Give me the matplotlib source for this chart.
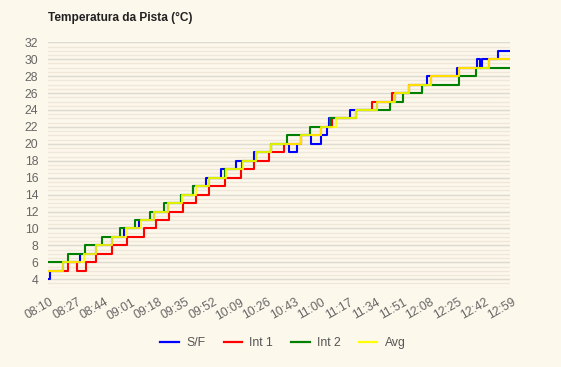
import matplotlib
matplotlib.use("Agg")
import matplotlib.pyplot as plt
from matplotlib.lines import Line2D
import matplotlib.transforms as mtransforms
import numpy as np

# x axis: minutes after 08:10, labels every 17 minutes
tick_labels = ["08:10", "08:27", "08:44", "09:01", "09:18", "09:35", "09:52", "10:09",
               "10:26", "10:43", "11:00", "11:17", "11:34", "11:51", "12:08", "12:25",
               "12:42", "12:59"]
end_minute = 289

# step change points: (minute, new value)
sf_t = [0, 1, 9.5, 20.2, 30.2, 40.3, 47.5, 57, 66, 74.8, 83, 90.4, 98.8, 108, 117.3, 128.8,
        139.2, 150.8, 155.8, 158.5, 164.8, 171, 174.5, 176, 189.2, 205.8, 216.9, 226, 236.8,
        256, 268.5, 270, 271.5, 281.5]
sf_v = [4, 5, 6, 7, 8, 9, 10, 11, 12, 13, 14, 15, 16, 17, 18, 19,
        20, 19, 20, 21, 20, 21, 22, 23, 24, 25, 26, 27, 28,
        29, 30, 29, 30, 31]

int1_t = [0, 12.3, 17.9, 23.5, 29.8, 39.8, 49.2, 60, 67.5, 75.5, 84.4, 92.5, 100.8, 110.5,
          120.8, 129, 138, 147.8, 158.5, 170.5, 177.8, 192.5, 202.7, 215.2, 226, 239.5, 257,
          275.8]
int1_v = [5, 6, 5, 6, 7, 8, 9, 10, 11, 12, 13, 14, 15, 16,
          17, 18, 19, 20, 21, 22, 23, 24, 25, 26, 27, 28, 29,
          30]

int2_t = [0, 12.3, 23, 33.5, 44.8, 54.2, 63.5, 72.7, 82.9, 90.4, 100.8, 111, 121.5, 130,
          139.2, 149.6, 163.7, 176.5, 192.5, 214, 222.3, 234, 257, 267.5]
int2_v = [6, 7, 8, 9, 10, 11, 12, 13, 14, 15, 16, 17, 18, 19,
          20, 21, 22, 23, 24, 25, 26, 27, 28, 29]

avg_t = [0, 9.4, 22.8, 30.2, 40.3, 48.7, 58, 66.5, 74.8, 83.8, 92.3, 100.7, 111.3, 121.7,
         130, 139.2, 158.5, 170.5, 180, 192.5, 205.8, 216.9, 226, 239.5, 257, 275.8]
avg_v = [5, 6, 7, 8, 9, 10, 11, 12, 13, 14, 15, 16, 17, 18,
         19, 20, 21, 22, 23, 24, 25, 26, 27, 28, 29, 30]

series = [
    ("S/F", sf_t, sf_v, "#0000ff", 1.0),
    ("Int 1", int1_t, int1_v, "#ff0000", 1.0),
    ("Int 2", int2_t, int2_v, "#008000", 1.0),
    ("Avg", avg_t, avg_v, "#ffff00", 0.88),
]

y_min, y_max = 3, 32
y_major = list(range(4, 33, 2))

W, H = 561, 367
bg = "#fdf8ec"
plt.rcParams["font.family"] = ["Liberation Sans", "DejaVu Sans"]
fig = plt.figure(figsize=(W / 100, H / 100), dpi=100, facecolor=bg)

left, right, top, bottom = 48, 510, 42.3, 287.7
ax = fig.add_axes([left / W, 1 - bottom / H, (right - left) / W, (bottom - top) / H])
ax.set_facecolor(bg)

# grid lines
for v in np.arange(y_min, y_max + 0.01, 0.5):
    ax.axhline(v, color="#efe8d8", lw=1.0, zorder=0)
for v in y_major:
    ax.axhline(v, color="#e0dbd0", lw=1.0, zorder=0.5)

for name, t, v, c, a in series:
    tt = list(t) + [end_minute]
    vv = list(v) + [v[-1]]
    ax.plot(tt, vv, drawstyle="steps-post", color=c, lw=1.5, alpha=a, label=name)

ax.set_xlim(0, end_minute)
ax.set_ylim(y_min, y_max)
ax.set_yticks(y_major)
ax.set_yticklabels([str(v) for v in y_major])
ax.set_xticks(np.arange(0, end_minute + 1, 17))
ax.set_xticklabels(tick_labels, rotation=30, ha="right", va="center", rotation_mode="anchor")
ax.tick_params(axis="both", length=0, labelsize=8.8, colors="#666666")
ax.tick_params(axis="y", pad=7)
ax.tick_params(axis="x", pad=10)
shift = mtransforms.ScaledTranslation(5 / 100, 0, fig.dpi_scale_trans)
for lab in ax.get_xticklabels():
    lab.set_transform(lab.get_transform() + shift)
for s in ax.spines.values():
    s.set_visible(False)

fig.text(48 / W, 1 - 18 / H, "Temperatura da Pista (°C)", fontsize=8.6, fontweight="bold",
         color="#222222", ha="left", va="center")

labels = [s[0] for s in series]
hs = [Line2D([0], [0], color=c, lw=1.6) for _, _, _, c, _ in series]
fig.legend(hs, labels, loc="center", bbox_to_anchor=(283 / W, 1 - 343 / H), ncol=4,
           frameon=False, fontsize=8.8, handlelength=1.5, handletextpad=0.6,
           columnspacing=1.5, labelcolor="#555555")

fig.savefig("out.png", dpi=100, facecolor=bg)
